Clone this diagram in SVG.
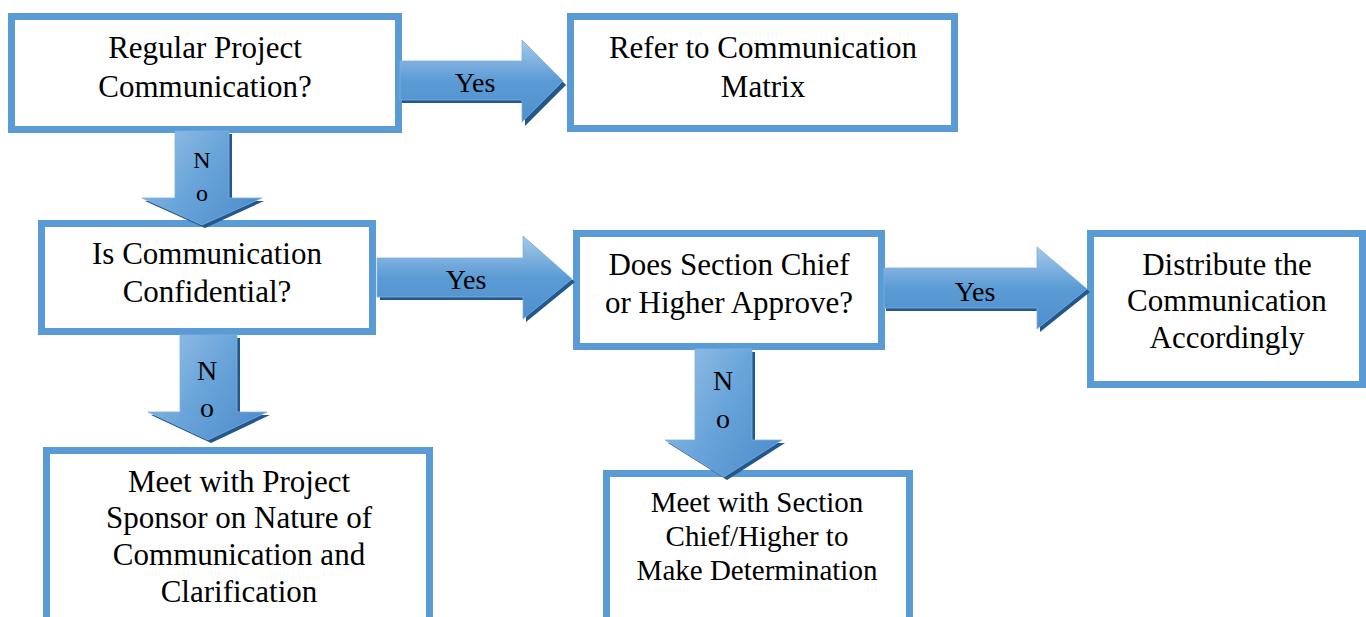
<svg xmlns="http://www.w3.org/2000/svg" width="1366" height="617" viewBox="0 0 1366 617">
  <defs>
    <linearGradient id="gradH" x1="0" y1="0" x2="0" y2="1">
      <stop offset="0" stop-color="#A7C9EA"/>
      <stop offset="0.5" stop-color="#5B9BD5"/>
      <stop offset="1" stop-color="#4F8FCC"/>
    </linearGradient>
    <linearGradient id="gradV" x1="0" y1="0" x2="1" y2="0.6">
      <stop offset="0" stop-color="#9EC3E8"/>
      <stop offset="0.55" stop-color="#6AA5DA"/>
      <stop offset="1" stop-color="#5391CE"/>
    </linearGradient>
    <style>
      .box { fill: #FFFFFF; stroke: #5B9BD5; stroke-width: 7; }
      text { font-family: "Liberation Serif", "DejaVu Serif", serif; fill: #000000; text-anchor: middle; }
      .lbl { font-size: 31px; }
      .lbl-sm { font-size: 29px; }
      .arr-h { fill: url(#gradH); stroke: #7FB0E0; stroke-width: 0.8; }
      .arr-v { fill: url(#gradV); stroke: #7FB0E0; stroke-width: 0.8; }
      .shadow { fill: #24578C; }
      .alab { font-size: 28px; }
      .alab-sm { font-size: 24px; }
    </style>
  </defs>

  <!-- Process boxes -->
  <g id="node-regular">
    <rect class="box" x="11.5" y="16.5" width="387" height="113"/>
    <text class="lbl" x="205" y="58">Regular Project</text>
    <text class="lbl" x="205" y="97">Communication?</text>
  </g>
  <g id="node-matrix">
    <rect class="box" x="570.5" y="16.5" width="384" height="112"/>
    <text class="lbl" x="763" y="58">Refer to Communication</text>
    <text class="lbl" x="763" y="97">Matrix</text>
  </g>
  <g id="node-confidential">
    <rect class="box" x="41.5" y="223.5" width="331" height="108"/>
    <text class="lbl" x="207" y="264">Is Communication</text>
    <text class="lbl" x="207" y="302">Confidential?</text>
  </g>
  <g id="node-approve">
    <rect class="box" x="576.5" y="233.5" width="305" height="113"/>
    <text class="lbl" x="729" y="275">Does Section Chief</text>
    <text class="lbl" x="729" y="313">or Higher Approve?</text>
  </g>
  <g id="node-distribute">
    <rect class="box" x="1090.5" y="233.5" width="272" height="151"/>
    <text class="lbl" x="1227" y="275">Distribute the</text>
    <text class="lbl" x="1227" y="311">Communication</text>
    <text class="lbl" x="1227" y="348">Accordingly</text>
  </g>
  <g id="node-sponsor">
    <rect class="box" x="46.5" y="450.5" width="383" height="190"/>
    <text class="lbl" x="239" y="492">Meet with Project</text>
    <text class="lbl" x="239" y="528">Sponsor on Nature of</text>
    <text class="lbl" x="239" y="565">Communication and</text>
    <text class="lbl" x="239" y="602">Clarification</text>
  </g>
  <g id="node-chief">
    <rect class="box" x="606.5" y="473.5" width="303" height="170"/>
    <text class="lbl-sm" x="757" y="512">Meet with Section</text>
    <text class="lbl-sm" x="757" y="546">Chief/Higher to</text>
    <text class="lbl-sm" x="757" y="580">Make Determination</text>
  </g>

  <!-- Block arrows between boxes -->
  <g id="connectors">
    <!-- Regular -> Matrix (Yes) -->
    <g id="arrow-yes-1">
      <path class="shadow" d="M402,64 H525 V43 L566,85 L525,126 V103 H402 Z"/>
      <path class="arr-h" d="M400,61 H522 V40 L563,81 L522,122 V100 H400 Z"/>
      <text class="alab" x="475" y="92">Yes</text>
    </g>
    <!-- Regular -> Confidential (No) -->
    <g id="arrow-no-1">
      <path class="shadow" d="M178,134 H232 V201 H264 L205,228 L145,201 H178 Z"/>
      <path class="arr-v" d="M175,131 H229 V198 H262 L202,225 L142,198 H175 Z"/>
      <text class="alab-sm" x="202" y="168">N</text>
      <text class="alab-sm" x="202" y="201">o</text>
    </g>
    <!-- Confidential -> Approve (Yes) -->
    <g id="arrow-yes-2">
      <path class="shadow" d="M380,261 H526 V239 L575,282 L526,322 V300 H380 Z"/>
      <path class="arr-h" d="M377,258 H523 V236 L572,279 L523,319 V297 H377 Z"/>
      <text class="alab" x="466" y="289">Yes</text>
    </g>
    <!-- Confidential -> Sponsor (No) -->
    <g id="arrow-no-2">
      <path class="shadow" d="M183,338 H240 V415 H270 L211,443 L151,415 H183 Z"/>
      <path class="arr-v" d="M180,335 H237 V412 H267 L208,440 L148,412 H180 Z"/>
      <text class="alab" x="207" y="380">N</text>
      <text class="alab" x="207" y="417">o</text>
    </g>
    <!-- Approve -> Distribute (Yes) -->
    <g id="arrow-yes-3">
      <path class="shadow" d="M886,271 H1040 V250 L1090,292 L1040,332 V311 H886 Z"/>
      <path class="arr-h" d="M884,268 H1037 V247 L1087,289 L1037,329 V308 H884 Z"/>
      <text class="alab" x="975" y="301">Yes</text>
    </g>
    <!-- Approve -> Chief (No) -->
    <g id="arrow-no-3">
      <path class="shadow" d="M698,352 H755 V443 H785 L727,480 L668,443 H698 Z"/>
      <path class="arr-v" d="M695,349 H752 V440 H782 L724,477 L665,440 H695 Z"/>
      <text class="alab" x="723" y="390">N</text>
      <text class="alab" x="723" y="428">o</text>
    </g>
  </g>
</svg>
